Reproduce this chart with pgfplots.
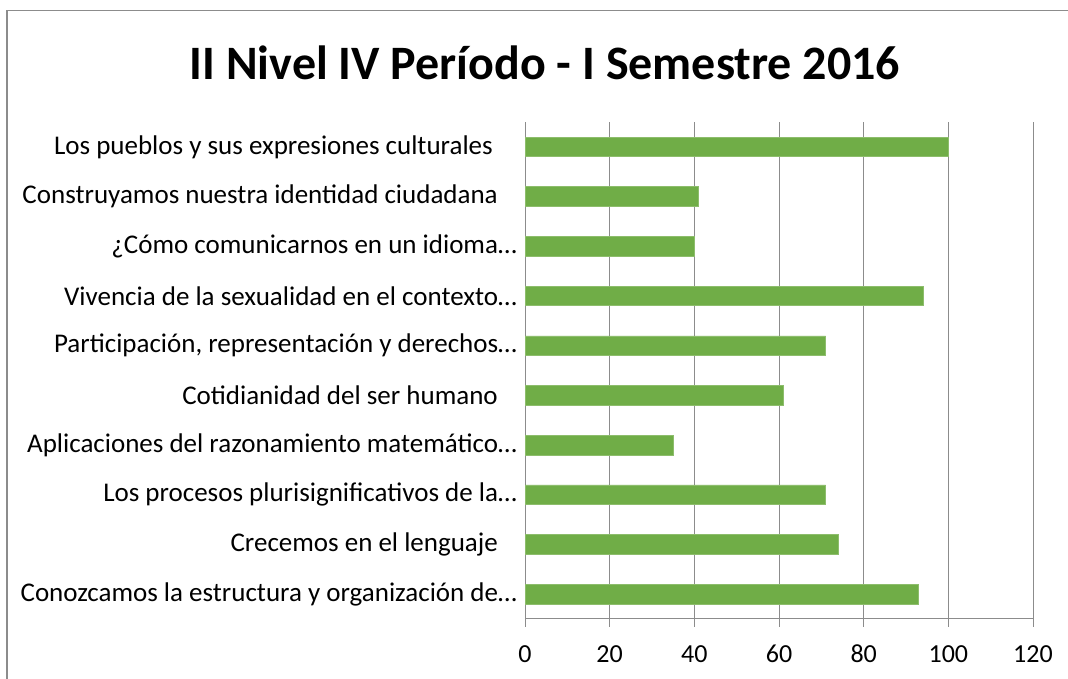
\documentclass[border=0pt]{standalone}
\usepackage{fontspec}
\setmainfont{Carlito}
\usepackage{pgfplots}
\pgfplotsset{compat=1.18}
\definecolor{bargreen}{HTML}{70AD47}
\definecolor{gridgray}{HTML}{8C8C8C}
\begin{document}
\begin{tikzpicture}[x=1bp,y=1bp]
\useasboundingbox (0,0) rectangle (1068,679);
\draw[gridgray, line width=1.6bp] (7,-20) -- (7,668.5) -- (1100,668.5);
\node[font=\fontsize{48bp}{56bp}\selectfont\bfseries, anchor=base] at (545,599) {II Nivel IV Período - I Semestre 2016};
\begin{axis}[
  at={(525bp,60bp)}, anchor=south west,
  width=508bp, height=497bp, scale only axis,
  xbar, bar width=19.6bp,
  xmin=0, xmax=120, ymin=-0.5, ymax=9.5,
  axis lines*=left,
  axis line style={gridgray, line width=1bp},
  xtick={0,20,...,120},
  xmajorgrids, grid style={gridgray, line width=1bp},
  ytick={0,...,9},
  yticklabels={
    {Conozcamos la estructura y organización de…},
    {Crecemos en el lenguaje\hspace*{19bp}},
    {Los procesos plurisignificativos de la…},
    {Aplicaciones del razonamiento matemático…},
    {Cotidianidad del ser humano\hspace*{19bp}},
    {Participación, representación y derechos…},
    {Vivencia de la sexualidad en el contexto…},
    {¿Cómo comunicarnos en un idioma…},
    {Construyamos nuestra identidad ciudadana\hspace*{19bp}},
    {Los pueblos y sus expresiones culturales\hspace*{24bp}}},
  minor ytick={-0.5,0.5,...,9.5},
  tick align=outside,
  major tick length=8bp, minor tick length=8bp,
  ytick style={draw=none},
  minor tick style={gridgray, line width=1bp},
  xtick style={gridgray, line width=1bp},
  /pgf/number format/assume math mode=true,
  yticklabel style={font=\fontsize{27bp}{32bp}\selectfont, text=black, anchor=east, inner sep=0pt, xshift=0bp},
  xticklabel style={font=\fontsize{26bp}{31bp}\selectfont, text=black, anchor=base, inner sep=0pt, yshift=-36bp},
  clip=false,
]
\addplot[fill=bargreen, draw=bargreen!80!white, line width=0.5bp] coordinates {
  (93,0) (74,1) (71,2) (35,3) (61,4) (71,5) (94,6) (40,7) (41,8) (100,9)
};
\end{axis}
\end{tikzpicture}
\end{document}
